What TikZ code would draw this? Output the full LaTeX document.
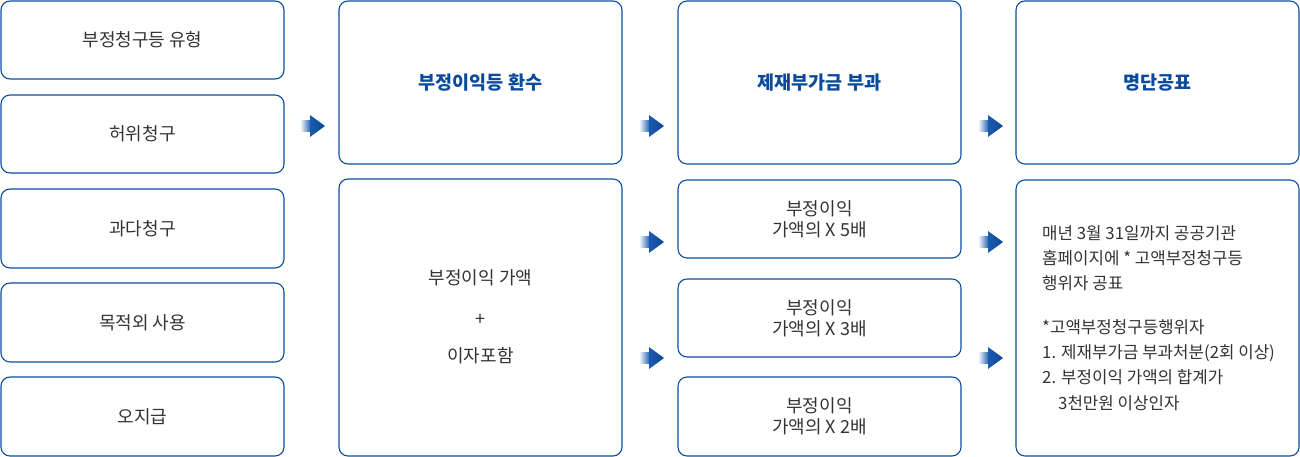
\documentclass[tikz,border=0pt]{standalone}
\usepackage{fontspec}
\setmainfont{Noto Sans CJK KR}
\usetikzlibrary{shadings}
\definecolor{bblue}{HTML}{0B4EA2}
\definecolor{tblue}{HTML}{0B4A9A}
\definecolor{txt}{HTML}{333333}
\definecolor{ablue}{HTML}{1B5BB0}
\begin{document}
\begin{tikzpicture}[x=1pt,y=-1pt,
  box/.style={draw=bblue, line width=1.1pt, rounded corners=9pt, fill=white,
    minimum width=283pt, inner sep=0pt, text=txt, font=\fontsize{18}{21}\selectfont, align=center},
  title/.style={text=tblue, font=\fontsize{18.5}{21}\selectfont\bfseries},
  lbl/.style={text=txt, font=\fontsize{18}{21}\selectfont, inner sep=0pt},
  note/.style={text=txt, font=\fontsize{16.8}{25.3}\selectfont, align=left, inner sep=0pt}]
\useasboundingbox (0,0) rectangle (1300,457);
\newcommand\garrow[3]{%
  \shade[left color=white, right color=ablue] (#2,#3-5.5) rectangle (#2+11,#3+5.5);
  \shade[left color=ablue, right color=bblue!90!black] (#2+10,#3-11) -- (#2+25,#3) -- (#2+10,#3+11) -- cycle;
  \coordinate (#1) at (#2+12,#3);}
% column 1
\node[box, minimum height=78pt] (c1a) at (142.5,40) {부정청구등 유형};
\node[box, minimum height=78pt] (c1b) at (142.5,134) {허위청구};
\node[box, minimum height=79pt] (c1c) at (142.5,228.5) {과다청구};
\node[box, minimum height=79pt] (c1d) at (142.5,322.5) {목적외 사용};
\node[box, minimum height=79pt] (c1e) at (142.5,416.5) {오지급};
% column 2
\node[box, minimum height=163pt] (c2a) at (480.5,82.5) {};
\node[title] (t2) at (c2a) {부정이익등 환수};
\node[box, minimum height=277pt] (c2b) at (480.5,317.5) {};
\node[lbl] (c2l1) at (480.5,278) {부정이익 가액};
\node[lbl] (c2l2) at (480.5,320) {+};
\node[lbl] (c2l3) at (480.5,356) {이자포함};
% column 3
\node[box, minimum height=163pt] (c3a) at (819.5,82.5) {};
\node[title] (t3) at (c3a) {제재부가금 부과};
\node[box, minimum height=78pt] (c3b) at (819.5,219) {부정이익\\가액의 X 5배};
\node[box, minimum height=78pt] (c3c) at (819.5,318) {부정이익\\가액의 X 3배};
\node[box, minimum height=79pt] (c3d) at (819.5,416.5) {부정이익\\가액의 X 2배};
% column 4
\node[box, minimum height=163pt] (c4a) at (1157.5,82.5) {};
\node[title] (t4) at (c4a) {명단공표};
\node[box, minimum height=276pt] (c4b) at (1157.5,318) {};
\node[note, anchor=west] (c4t) at (1042,318) {매년 3월 31일까지 공공기관\\홈페이지에 * 고액부정청구등\\행위자 공표\\[18pt]*고액부정청구등행위자\\1. 제재부가금 부과처분(2회 이상)\\2. 부정이익 가액의 합계가\\\hspace*{16pt}3천만원 이상인자};
% arrows
\garrow{a1}{300}{126}
\garrow{a2}{639}{126}
\garrow{a3}{978}{126}
\garrow{a4}{639}{242}
\garrow{a5}{639}{358}
\garrow{a6}{978}{242}
\garrow{a7}{978}{358}
\end{tikzpicture}
\end{document}
